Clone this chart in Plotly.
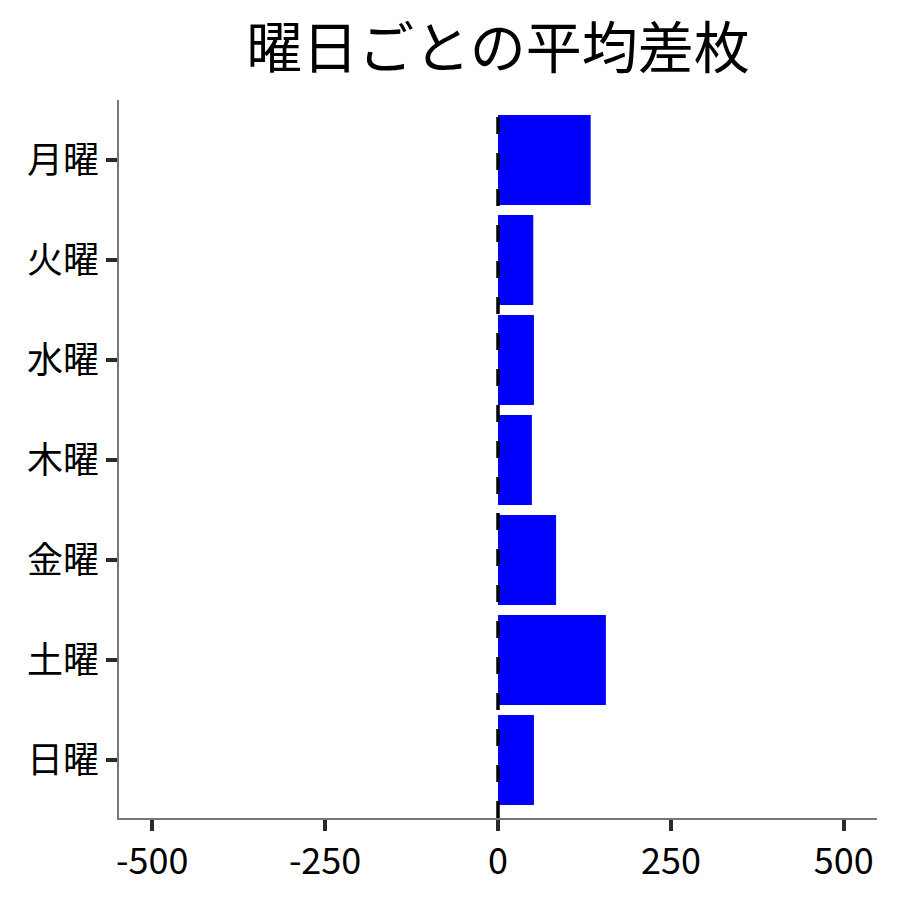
import plotly.graph_objects as go

# 曜日ごとの平均差枚
days = ["月曜", "火曜", "水曜", "木曜", "金曜", "土曜", "日曜"]
avg_diff = [134, 51, 52, 49, 84, 156, 52]
x_ticks = [-500, -250, 0, 250, 500]
x_labels = ["-500", "-250", "0", "250", "500"]

font_jp = "Noto Sans CJK JP"

fig = go.Figure()
fig.add_trace(go.Bar(
    x=avg_diff,
    y=days,
    orientation="h",
    marker=dict(color="#0000ff", line=dict(width=0)),
))

# 0 の位置に破線
fig.add_shape(
    type="line", xref="x", yref="paper",
    x0=0, x1=0, y0=0, y1=1,
    line=dict(color="black", width=3.5, dash="17px,19px"),
    layer="above",
)

fig.update_layout(
    width=900, height=900,
    margin=dict(l=111, r=31, t=92, b=90),
    plot_bgcolor="white",
    paper_bgcolor="white",
    font=dict(family=font_jp, color="black"),
    title=dict(
        text="曜日ごとの平均差枚",
        x=0.5, xref="paper", xanchor="center",
        y=0.955, yref="container", yanchor="middle",
        font=dict(size=56, family=font_jp),
    ),
    bargap=0.1,
    showlegend=False,
)

fig.update_xaxes(
    range=[-548, 548],
    tickvals=x_ticks, ticktext=x_labels,
    showgrid=False, zeroline=False,
    showline=True, linecolor="#777777", linewidth=1.5,
    ticks="outside", ticklen=11, tickwidth=3.5, tickcolor="#2a2a2a",
    tickfont=dict(size=36, family=font_jp, color="black"),
)
fig.update_yaxes(
    categoryorder="array", categoryarray=days,
    range=[6.58, -0.6],
    showgrid=False, zeroline=False,
    showline=True, linecolor="#777777", linewidth=1.5,
    ticks="outside", ticklen=11, tickwidth=3.5, tickcolor="#2a2a2a",
    tickfont=dict(size=36, family=font_jp, color="black"),
)

fig.write_html("out.html")
